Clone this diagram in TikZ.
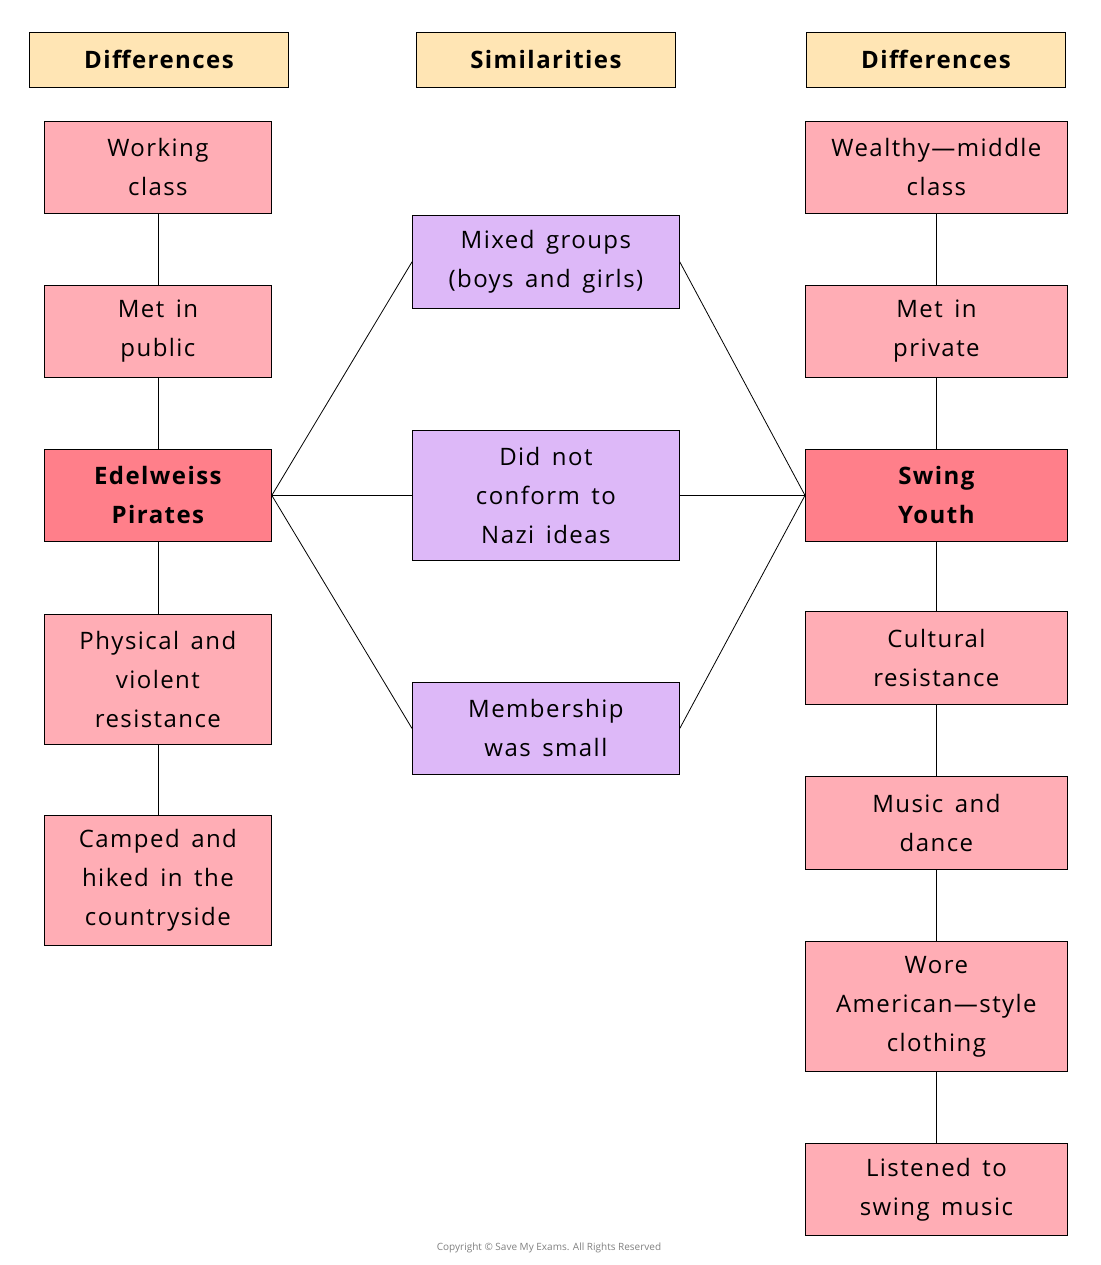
\documentclass[tikz,border=0pt]{standalone}
\usepackage{fontspec}
\setmainfont{Open Sans}[LetterSpace=6,WordSpace=1.5]
\newfontfamily\cpf{Open Sans}
\definecolor{hdr}{HTML}{FFE5B4}
\definecolor{pk}{HTML}{FFADB5}
\definecolor{dpk}{HTML}{FF7F8A}
\definecolor{pur}{HTML}{DDB8F8}
\begin{document}
\begin{tikzpicture}[x=1pt,y=-1pt,
 box/.style={draw=black,line width=0.8pt,align=center,inner sep=0pt,font=\fontsize{24}{39}\selectfont,anchor=north west},
 hdr/.style={box,fill=hdr,font=\fontsize{24}{28}\selectfont\bfseries},
 pkb/.style={box,fill=pk},
 main/.style={box,fill=dpk,font=\fontsize{24}{39}\selectfont\bfseries},
 pub/.style={box,fill=pur},
 ln/.style={line width=0.8pt}]
\useasboundingbox (0,0) rectangle (1100,1265);
\newcommand{\bx}[7]{\node[#1,minimum width=#4-#3,minimum height=#6-#5] (#2) at (#3,#5) {#7};}
\bx{hdr}{hl}{29}{288}{32}{87}{Differences}
\bx{hdr}{hm}{416}{675}{32}{87}{Similarities}
\bx{hdr}{hr}{806}{1065}{32}{87}{Differences}
\bx{pkb}{l1}{44}{271}{121}{213}{Working\\class}
\bx{pkb}{l2}{44}{271}{285}{377}{Met in\\public}
\bx{main}{l3}{44}{271}{449}{541}{Edelweiss\\Pirates}
\bx{pkb}{l4}{44}{271}{614}{744}{Physical and\\violent\\resistance}
\bx{pkb}{l5}{44}{271}{815}{945}{Camped and\\hiked in the\\countryside}
\bx{pub}{m1}{412}{679}{215}{308}{Mixed groups\\(boys and girls)}
\bx{pub}{m2}{412}{679}{430}{560}{Did not\\conform to\\Nazi ideas}
\bx{pub}{m3}{412}{679}{682}{774}{Membership\\was small}
\bx{pkb}{r1}{805}{1067}{121}{213}{Wealthy—middle\\class}
\bx{pkb}{r2}{805}{1067}{285}{377}{Met in\\private}
\bx{main}{r3}{805}{1067}{449}{541}{Swing\\Youth}
\bx{pkb}{r4}{805}{1067}{611}{704}{Cultural\\resistance}
\bx{pkb}{r5}{805}{1067}{776}{869}{Music and\\dance}
\bx{pkb}{r6}{805}{1067}{941}{1071}{Wore\\American—style\\clothing}
\bx{pkb}{r7}{805}{1067}{1143}{1235}{Listened to\\swing music}
\foreach \a/\b in {l1/l2,l2/l3,l3/l4,l4/l5,r1/r2,r2/r3,r3/r4,r4/r5,r5/r6,r6/r7}
  \draw[ln] (\a.south) -- (\b.north);
\foreach \m in {m1,m2,m3}{
  \draw[ln] (l3.east) -- (\m.west);
  \draw[ln] (r3.west) -- (\m.east);}
\node[font=\cpf\fontsize{10}{12}\selectfont,text=gray] (cp) at (549,1248) {Copyright © Save My Exams. All Rights Reserved};
\end{tikzpicture}
\end{document}
